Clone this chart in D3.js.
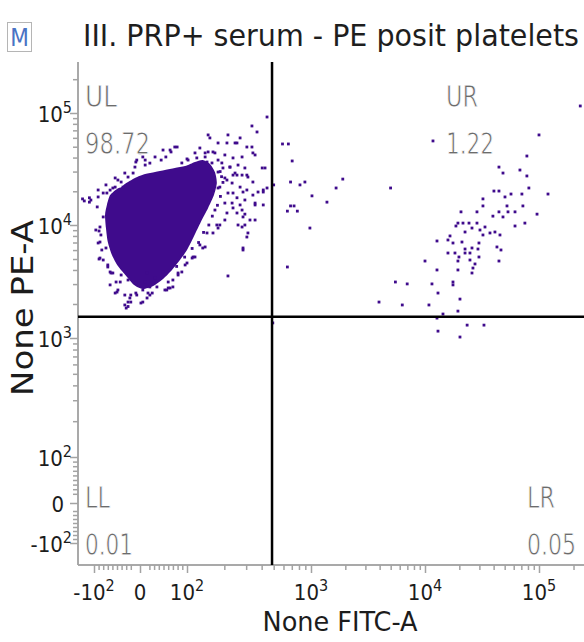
<!DOCTYPE html>
<html>
<head>
<meta charset="utf-8">
<script src="https://cdn.jsdelivr.net/npm/d3@7"></script>
<style>
  body { margin: 0; background: #fff; }
  svg { display: block; }
</style>
</head>
<body>
<svg id="chart" width="584" height="642"></svg>
<script>
// Flow plot: PE-A vs FITC-A, quadrant gated
const chartTitle = 'III. PRP+ serum - PE posit platelets';
const xTitle = 'None FITC-A';
const yTitle = 'None PE-A';

const quadNames = ['UL', 'UR', 'LL', 'LR'];
const quadPcts = ['98.72', '1.22', '0.01', '0.05'];
const gateFitc = 485;
const gatePe = 1540;

// axis stops (biexponential display) and tick labels
const xStops = [-135, -100, 0, 100, 1000, 10000, 100000, 262144];
const yStops = [-155, -100, 0, 100, 1000, 10000, 100000, 262144];
const majorTicks = [-100, 0, 100, 1000, 10000, 100000];
const tickBase = ['-10', '0', '10', '10', '10', '10'];
const tickExp = ['2', '', '2', '3', '4', '5'];

// dense core of the platelet population (outline), [FITC, PE]
const coreOutline = [
  [-72, 15100], [-65, 18500], [-50, 21000], [-40, 21800], [-33, 23200], [-11, 26300], [11, 28500],
  [32, 29700], [53, 30960], [74, 32300], [96, 33600], [116, 36500], [134, 38000],
  [153, 35100], [168, 29700], [174, 23700], [165, 18500], [148, 14200], [129, 10600],
  [114, 8000], [100, 6010], [85, 4900], [68, 4000], [49, 3330], [28, 2890],
  [6, 2720], [-13, 2950], [-30, 3540], [-48, 4340], [-61, 5430], [-70, 7070],
  [-74, 9400], [-76, 12300]
];

// single events around the core (UL)
const ulEvents = [
  [442, 92100], [367, 67700], [334, 76600], [214, 63700], [268, 59900], [153, 59900],
  [334, 49700], [244, 54000], [354, 42200], [404, 32300], [426, 32300], [304, 27900],
  [253, 27900], [442, 21400], [412, 20540], [340, 18500], [354, 15100], [412, 15100],
  [268, 15100], [293, 12500], [322, 11080], [253, 12800], [278, 9600], [310, 8500],
  [304, 7830], [283, 6010], [214, 3540], [-124, 17100], [-109, 16000], [-89, 8850],
  [-89, 5000], [-91, 6930], [-87, 7070], [-50, 2550], [-30, 1840], [-26, 2080],
  [-7, 2400], [15, 2260], [26, 2500], [53, 2660], [64, 2770], [70, 2830], [36, 2830],
  [-59, 3760], [-70, 4250], [-43, 3130], [15, 3760], [-7, 38000], [6, 40500],
  [64, 46700], [79, 49700], [100, 38900], [120, 39700], [140, 44000], [162, 44900],
  [145, 36500], [178, 38000], [195, 32300], [222, 32900], [235, 27900], [210, 25200],
  [184, 21800], [235, 19300], [283, 19700], [231, 15700], [210, 12800], [184, 10000],
  [162, 8500], [145, 8500], [127, 6660], [112, 5210], [100, 4610], [81, 3760],
  [70, 3260], [57, 2660], [-48, 25200], [-37, 21800], [-59, 21400], [-72, 19300],
  [-93, 14500], [-80, 11800], [-87, 9600], [-83, 6010], [-80, 4900], [-65, 3840],
  [202, 11080], [258, 10000], [293, 10000], [354, 11080], [283, 11800], [283, 6260],
  [174, 10000], [178, 9400], [140, 6390], [134, 6260], [116, 5210], [110, 5100],
  [96, 4430], [89, 3840], [81, 3610], [-106, 16700], [-91, 17800], [-80, 19300],
  [-65, 20500], [-54, 21800], [-41, 24200], [-26, 26800], [-15, 29100], [-9, 36500],
  [11, 34300], [21, 35700], [45, 38000], [55, 40500], [66, 44900], [74, 49700],
  [-33, 1960], [-22, 2260], [-20, 2400], [6, 2080], [21, 2400], [60, 2770],
  [-54, 2500], [-65, 2950], [-48, 2660],
  [148, 63700], [178, 54000], [210, 54000], [253, 54000], [304, 49700], [340, 44000],
  [148, 44900], [168, 44000], [202, 42200], [235, 39700], [278, 40500], [116, 44000],
  [127, 48700], [140, 40500], [102, 38000], [89, 35800], [159, 35800], [191, 35800],
  [222, 32900], [258, 34300], [293, 32300], [178, 29700], [244, 29100], [278, 27900],
  [310, 26800], [202, 26300], [340, 24200], [231, 23700], [268, 21800], [304, 20540],
  [374, 19700], [412, 19700], [178, 21400], [214, 19300], [253, 17500], [293, 16720],
  [354, 15700], [202, 15700], [235, 14200], [278, 13600], [168, 13600],
  [-96, 9030], [-85, 8160], [-74, 6260], [-87, 5100], [-70, 4430], [-63, 3760],
  [-41, 3610], [-52, 3130], [-26, 3260], [-9, 3070], [11, 3130], [32, 3400],
  [49, 3840], [60, 3130], [-9, 2500], [6, 2660], [21, 2830], [-33, 2400],
  [-20, 2080], [-26, 1900], [2, 2040], [17, 2500],
  [0, 44000], [11, 38000], [32, 40500], [49, 46700], [-11, 32900], [-33, 29100],
  [-54, 26300], [-74, 22800], [-91, 20540], [-109, 17500], [-120, 16400],
  [185, 30000], [190, 27000], [195, 24000], [186, 18000], [176, 15000], [160, 12000],
  [150, 10000], [136, 8600], [124, 7000], [110, 6200], [95, 5200], [78, 4300]
];

// events in the FITC+ quadrants
const urEvents = [
  [589, 52900], [657, 52900], [705, 37300], [500, 22800], [684, 24200], [815, 22800],
  [893, 24200], [1020, 18200], [684, 14800], [730, 14800], [645, 13300], [776, 13300],
  [980, 9400], [1380, 16000], [1660, 21400], [1900, 25700], [645, 4250], [4990, 21400],
  [11750, 56300], [229000, 115500], [100000, 63700], [78300, 41300], [44540, 32900],
  [48320, 29100], [68050, 30960], [78300, 27400], [81500, 21400], [119800, 18900],
  [40240, 20100], [44540, 20100], [56800, 18900], [70800, 18900], [50310, 17800],
  [32240, 17100], [52390, 14800], [72240, 14800], [32240, 14800], [28570, 13100],
  [44540, 13100], [53470, 13100], [61600, 13100], [20690, 13100], [48320, 11800],
  [96100, 12500], [39420, 12000], [19450, 10400], [21540, 10400], [24320, 10400],
  [28570, 10400], [18680, 9800], [61600, 9800], [75200, 10400], [22450, 8670],
  [25830, 9400], [30360, 9030], [33590, 9600], [37150, 8500], [41070, 8670],
  [45460, 8160], [32240, 8160], [16570, 8000], [15900, 7370], [12740, 7220],
  [17600, 6930], [21100, 7070], [29740, 6930], [25830, 6260], [22450, 6130],
  [42770, 6390], [15900, 5650], [18320, 5650], [22450, 5650], [24800, 5650],
  [29150, 6130], [19850, 5210], [24800, 4900], [29740, 5210], [46390, 6010],
  [44540, 4800], [10000, 4800], [19450, 4800], [27450, 4520], [26340, 4160],
  [25830, 3760], [12740, 4000], [19450, 4000], [17600, 3130], [17600, 2950],
  [5500, 3130], [6980, 3010], [11510, 3010], [13000, 2500], [3950, 2080],
  [6320, 1960], [10830, 1960], [20270, 2210], [19450, 1730], [14380, 1630]
];
const lrEvents = [
  [12740, 1500], [13000, 1150], [20270, 1020], [23420, 1300], [32910, 1300], [492, 1360]
];

const W = 584, H = 642;
const plotLeft = 78, plotBottom = 565, plotTop = 62;
const eventColor = '#3f0b8c';

// biexponential-like transform: linear near zero, log above 100
const tf = v => Math.abs(v) <= 100 ? v / 50 : Math.sign(v) * Math.log10(Math.abs(v));

function bix(lin) {
  const s = v => lin(tf(v));
  s.copy = () => s;
  s.range = () => lin.range();
  s.domain = () => lin.domain();
  return s;
}

const x = bix(d3.scaleLinear().domain(xStops.map(tf)).range([78, 94, 140, 187, 311, 425, 539, 587]));
const y = bix(d3.scaleLinear().domain(yStops.map(tf)).range([565, 543, 503, 457, 338, 225, 113, 66]));

function minorTicks() {
  const out = [];
  for (let k = 2; k <= 9; k++) { out.push(k * 10, -k * 10); }
  [100, 1000, 10000].forEach(d => { for (let k = 2; k <= 9; k++) out.push(k * d); });
  out.push(200000);
  return out;
}

const svg = d3.select('#chart');
svg.append('rect').attr('width', W).attr('height', H).attr('fill', '#fff');

// "M" badge
svg.append('rect').attr('x', 7.5).attr('y', 22.5).attr('width', 24).attr('height', 29)
  .attr('fill', '#fff').attr('stroke', '#b5b5b5');
svg.append('text').attr('x', 19.5).attr('y', 46).attr('text-anchor', 'middle')
  .attr('font-family', 'DejaVu Sans Condensed, DejaVu Sans, sans-serif').attr('font-size', 24)
  .attr('fill', '#4a73c4').text('M');

// title
svg.append('text').attr('x', 83).attr('y', 46)
  .attr('font-family', 'DejaVu Sans Condensed, DejaVu Sans, sans-serif').attr('font-size', 30)
  .attr('textLength', 496).attr('lengthAdjust', 'spacingAndGlyphs')
  .attr('fill', '#1e1e1e').text(chartTitle);

// axes
const axisCol = '#a3a3a3';
const xAxisG = svg.append('g').attr('transform', `translate(0,${plotBottom})`);
xAxisG.call(d3.axisBottom(x).tickValues(minorTicks()).tickSize(5).tickSizeOuter(0).tickFormat(''));
xAxisG.append('g').call(d3.axisBottom(x).tickValues(majorTicks).tickSize(8).tickSizeOuter(0).tickFormat(''));
const yAxisG = svg.append('g').attr('transform', `translate(${plotLeft},0)`);
yAxisG.call(d3.axisLeft(y).tickValues(minorTicks()).tickSize(5).tickSizeOuter(0).tickFormat(''));
yAxisG.append('g').call(d3.axisLeft(y).tickValues(majorTicks).tickSize(8).tickSizeOuter(0).tickFormat(''));
svg.selectAll('.domain').attr('stroke', axisCol).attr('stroke-width', 1.5);
svg.selectAll('.tick line').attr('stroke', axisCol).attr('stroke-width', 1.5);
yAxisG.selectAll('.domain').attr('d', `M0,${plotBottom}V${plotTop}`);
xAxisG.selectAll('.domain').attr('d', `M${plotLeft},0H${W}`);

// tick labels
const labFont = 'DejaVu Sans Condensed, DejaVu Sans, sans-serif';
majorTicks.forEach((v, i) => {
  const t = svg.append('text').attr('x', x(v)).attr('y', 600).attr('text-anchor', 'middle')
    .attr('font-family', labFont).attr('font-size', 22).attr('fill', '#1c1c1c');
  t.append('tspan').text(tickBase[i]);
  if (tickExp[i]) t.append('tspan').attr('dy', -9).attr('font-size', 16).text(tickExp[i]);
});
majorTicks.forEach((v, i) => {
  const t = svg.append('text').attr('x', tickExp[i] ? 72 : 64).attr('y', y(v) + 9).attr('text-anchor', 'end')
    .attr('font-family', labFont).attr('font-size', 22).attr('fill', '#1c1c1c');
  t.append('tspan').text(tickBase[i]);
  if (tickExp[i]) t.append('tspan').attr('dy', -9).attr('font-size', 16).text(tickExp[i]);
});

// axis titles
svg.append('text').attr('x', 340).attr('y', 631).attr('text-anchor', 'middle')
  .attr('font-family', labFont).attr('font-size', 27).attr('fill', '#1c1c1c')
  .attr('textLength', 155).attr('lengthAdjust', 'spacingAndGlyphs').text(xTitle);
svg.append('text').attr('transform', 'translate(33,308) rotate(-90)').attr('text-anchor', 'middle')
  .attr('font-family', labFont).attr('font-size', 31).attr('fill', '#1c1c1c')
  .attr('textLength', 176).attr('lengthAdjust', 'spacingAndGlyphs').text(yTitle);

// events
const plot = svg.append('g');
plot.append('path')
  .attr('d', d3.line().x(d => x(d[0])).y(d => y(d[1])).curve(d3.curveCardinalClosed.tension(0.3))(coreOutline))
  .attr('fill', eventColor);
const allEvents = ulEvents.concat(urEvents, lrEvents);
plot.selectAll('rect.ev').data(allEvents).join('rect').attr('class', 'ev')
  .attr('x', d => x(d[0]) - 1.4).attr('y', d => y(d[1]) - 1.4)
  .attr('width', 2.8).attr('height', 2.8).attr('fill', eventColor);

// quadrant gate lines
svg.append('line').attr('x1', x(gateFitc)).attr('x2', x(gateFitc)).attr('y1', plotTop).attr('y2', plotBottom)
  .attr('stroke', '#000').attr('stroke-width', 2.5);
svg.append('line').attr('x1', plotLeft).attr('x2', W).attr('y1', y(gatePe)).attr('y2', y(gatePe))
  .attr('stroke', '#000').attr('stroke-width', 2.5);

// quadrant labels (thin grey: white stroke trims the glyphs)
const qPos = [[85, 107], [446, 107], [85, 508], [527, 508]];
const qNameW = [32, 32, 25, 28];
const qPctW = [65, 48, 48, 49];
const qFont = 'DejaVu Sans Condensed, sans-serif';
quadNames.forEach((q, i) => {
  const [qx, qy] = qPos[i];
  [[q, qNameW[i], qy], [quadPcts[i], qPctW[i], qy + 47]].forEach(([s, w, ty]) => {
    // natural width ~0.5em per glyph; pick a size near it so the box stays inside the frame
    svg.append('text').attr('x', qx).attr('y', ty).attr('font-family', qFont)
      .attr('font-size', 30).attr('fill', '#6c6c6c')
      .attr('stroke', '#fff').attr('stroke-width', 0.8)
      .attr('transform', `translate(${qx},${ty}) scale(0.78,1) translate(${-qx},${-ty})`)
      .attr('textLength', w / 0.78).attr('lengthAdjust', 'spacingAndGlyphs').text(s);
  });
});
</script>
</body>
</html>
